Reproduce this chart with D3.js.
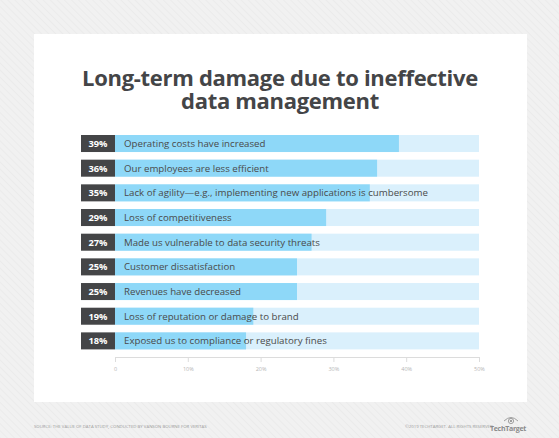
<!DOCTYPE html>
<html>
<head>
<meta charset="utf-8">
<script src="https://cdn.jsdelivr.net/npm/d3@7"></script>
<style>
  body { margin: 0; background: #f1f1f1; }
  svg { display: block; }
  text { font-family: "Open Sans", "DejaVu Sans", sans-serif; }
</style>
</head>
<body>
<div id="chart"></div>
<script>
// data
const categories = [
  "Operating costs have increased",
  "Our employees are less efficient",
  "Lack of agility\u2014e.g., implementing new applications is cumbersome",
  "Loss of competitiveness",
  "Made us vulnerable to data security threats",
  "Customer dissatisfaction",
  "Revenues have decreased",
  "Loss of reputation or damage to brand",
  "Exposed us to compliance or regulatory fines"
];
const values = [39, 36, 35, 29, 27, 25, 25, 19, 18];
const tickValues = [0, 10, 20, 30, 40, 50];
const titleLines = ["Long-term damage due to ineffective", "data management"];
const sourceText = "SOURCE: THE VALUE OF DATA STUDY, CONDUCTED BY VANSON BOURNE FOR VERITAS";
const copyrightText = "\u00A92019 TECHTARGET. ALL RIGHTS RESERVED";

const W = 559, H = 438;
const colors = {
  bg: "#f1f1f1",
  stripe: "#e9e9e9",
  panel: "#ffffff",
  dark: "#444547",
  bar: "#8ed8f8",
  track: "#daf0fc",
  text: "#4a4a4a",
  axis: "#dcdcdc",
  tick: "#b5b5b5",
  foot: "#9a9a9a"
};

const svg = d3.select("#chart").append("svg")
  .attr("width", W)
  .attr("height", H);

// hatched background
const defs = svg.append("defs");
const pat = defs.append("pattern")
  .attr("id", "hatch")
  .attr("width", 5)
  .attr("height", 5)
  .attr("patternUnits", "userSpaceOnUse")
  .attr("patternTransform", "rotate(-45)");
pat.append("rect").attr("width", 5).attr("height", 5).attr("fill", colors.bg);
pat.append("line")
  .attr("x1", 0).attr("y1", 0).attr("x2", 0).attr("y2", 5)
  .attr("stroke", colors.stripe).attr("stroke-width", 1.5);

svg.append("rect").attr("width", W).attr("height", H).attr("fill", "url(#hatch)");

// white panel
svg.append("rect")
  .attr("x", 34).attr("y", 34)
  .attr("width", 493).attr("height", 368)
  .attr("fill", colors.panel);

// title (one text, two lines)
svg.append("text")
  .attr("text-anchor", "middle")
  .attr("font-size", 22)
  .attr("font-weight", 700)
  .attr("fill", colors.dark)
  .attr("letter-spacing", -0.3)
  .selectAll("tspan")
  .data(titleLines)
  .join("tspan")
  .attr("x", 280)
  .attr("y", (d, i) => 86 + i * 23)
  .text((d) => d);

// scales
const x = d3.scaleLinear().domain([0, 50]).range([115, 479]);
const y = d3.scaleBand()
  .domain(categories)
  .range([135, 349.4])
  .paddingInner(0.31)
  .paddingOuter(0);

const rows = svg.append("g")
  .selectAll("g")
  .data(categories.map((c, i) => ({ cat: c, val: values[i] })))
  .join("g")
  .attr("transform", (d) => `translate(0,${y(d.cat)})`);

rows.append("rect")
  .attr("x", x(0))
  .attr("width", x(50) - x(0))
  .attr("height", y.bandwidth())
  .attr("fill", colors.track);

rows.append("rect")
  .attr("x", x(0))
  .attr("width", (d) => x(d.val) - x(0))
  .attr("height", y.bandwidth())
  .attr("fill", colors.bar);

rows.append("rect")
  .attr("x", 81)
  .attr("width", x(0) - 81)
  .attr("height", y.bandwidth())
  .attr("fill", colors.dark);

rows.append("text")
  .attr("x", 98)
  .attr("y", y.bandwidth() / 2)
  .attr("dy", "0.36em")
  .attr("text-anchor", "middle")
  .attr("font-size", 9.3)
  .attr("font-weight", 700)
  .attr("fill", "#ffffff")
  .text((d) => d.val + "%");

rows.append("text")
  .attr("x", 124)
  .attr("y", y.bandwidth() / 2)
  .attr("dy", "0.36em")
  .attr("font-size", 9.7)
  .attr("fill", colors.text)
  .text((d) => d.cat);

// axis
const axis = svg.append("g")
  .attr("transform", "translate(0,357)")
  .call(
    d3.axisBottom(x)
      .tickValues(tickValues)
      .tickFormat((d) => (d === 0 ? "0" : d + "%"))
      .tickSize(5)
      .tickSizeOuter(0)
      .tickPadding(5)
  );
axis.select(".domain").attr("stroke", colors.axis);
axis.selectAll(".tick line").attr("stroke", colors.axis);
axis.selectAll(".tick text")
  .attr("fill", colors.tick)
  .attr("font-size", 5.5)
  .attr("font-family", "Open Sans, sans-serif");

// footer
svg.append("text")
  .attr("x", 34)
  .attr("y", 428)
  .attr("font-size", 4.3)
  .attr("fill", colors.foot)
  .text(sourceText);

svg.append("text")
  .attr("x", 493)
  .attr("y", 428)
  .attr("text-anchor", "end")
  .attr("font-size", 4.3)
  .attr("fill", colors.foot)
  .text(copyrightText);

// TechTarget mark
const logo = svg.append("g").attr("transform", "translate(511,421)");
logo.append("path")
  .attr("d", "M-7,0 Q0,-7 7,0")
  .attr("fill", "none")
  .attr("stroke", "#8a8a8a")
  .attr("stroke-width", 0.8);
logo.append("circle").attr("r", 2.6).attr("fill", "none").attr("stroke", "#8a8a8a").attr("stroke-width", 0.8);
logo.append("circle").attr("r", 1.1).attr("fill", "#8a8a8a");
svg.append("text")
  .attr("x", 526)
  .attr("y", 431)
  .attr("text-anchor", "end")
  .attr("font-size", 7)
  .attr("font-weight", 700)
  .attr("fill", "#8a8a8a")
  .attr("letter-spacing", -0.3)
  .text("TechTarget");
</script>
</body>
</html>
